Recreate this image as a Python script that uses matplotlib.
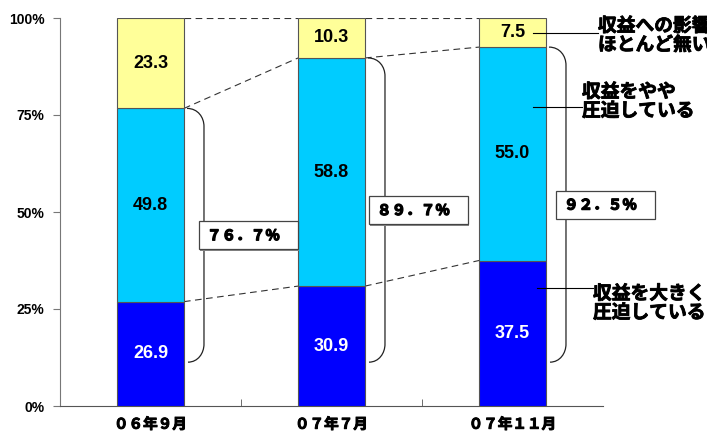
import matplotlib
matplotlib.use('Agg')
import matplotlib.pyplot as plt
from matplotlib.path import Path
from matplotlib.patches import PathPatch, Rectangle
import matplotlib.patheffects as pe
import numpy as np

# 収益への影響 (％)
periods = ['０６年９月', '０７年７月', '０７年１１月']
heavy = [26.9, 30.9, 37.5]      # 収益を大きく圧迫している
slight = [49.8, 58.8, 55.0]     # 収益をやや圧迫している
none_ = [23.3, 10.3, 7.5]       # 収益への影響ほとんど無い
series_names = ['収益を大きく\n圧迫している', '収益をやや\n圧迫している', '収益への影響\nほとんど無い']
yticks = [0, 25, 50, 75, 100]

JP = ['Noto Sans CJK JP', 'DejaVu Sans']
NUM = 'Liberation Sans'
c_heavy, c_slight, c_none = '#0000FF', '#00CCFF', '#FFFF99'
edge = '#555555'
thick = [pe.withStroke(linewidth=0.6, foreground='black')]

fig = plt.figure(figsize=(7.07, 4.33), dpi=100)
ax = fig.add_axes([60 / 707, 27 / 433, 543 / 707, 388 / 433])
ax.set_xlim(-0.5, 2.5)
ax.set_ylim(0, 100)

PX = 3 / 543       # data units per pixel, x
PY = 100 / 388     # data units per pixel, y

x = np.arange(len(periods))
w = 0.37
heavy = np.array(heavy)
slight = np.array(slight)
none_ = np.array(none_)
top1 = heavy
top2 = heavy + slight
top3 = heavy + slight + none_

ax.bar(x, heavy, w, color=c_heavy, edgecolor=edge, lw=0.8, zorder=3)
ax.bar(x, slight, w, bottom=top1, color=c_slight, edgecolor=edge, lw=0.8, zorder=3)
ax.bar(x, none_, w, bottom=top2, color=c_none, edgecolor=edge, lw=0.8, zorder=3)

# segment values
for i in range(len(x)):
    ax.text(x[i], heavy[i] / 2, f'{heavy[i]:.1f}', ha='center', va='center',
            fontsize=13, fontweight='bold', family=NUM, color='white', zorder=4)
    ax.text(x[i], top1[i] + slight[i] / 2, f'{slight[i]:.1f}', ha='center', va='center',
            fontsize=13, fontweight='bold', family=NUM, color='black', zorder=4)
    ax.text(x[i], top2[i] + none_[i] / 2, f'{none_[i]:.1f}', ha='center', va='center',
            fontsize=13, fontweight='bold', family=NUM, color='black', zorder=4)

# dashed connectors between bars
for tops in (top1, top2, top3):
    for i in range(len(x) - 1):
        ax.plot([x[i] + w / 2, x[i + 1] - w / 2], [tops[i], tops[i + 1]],
                ls=(0, (6, 4)), color='#333333', lw=0.8, zorder=2)

# braces + total boxes
fw = str.maketrans('0123456789.%', '０１２３４５６７８９．％')
brace_bot = 11.3
box_dx = [-5, -16, -10]
for i in range(len(x)):
    xr = x[i] + w / 2
    x0 = xr + 3 * PX
    xv = xr + 20 * PX
    t = top2[i]
    r = 18 * PY
    verts = [(x0, t), (xv - 6 * PX, t), (xv, t - r / 2), (xv, t - r),
             (xv, brace_bot + r),
             (xv, brace_bot + r / 2), (xv - 6 * PX, brace_bot), (x0 + 1 * PX, brace_bot)]
    codes = [Path.MOVETO, Path.CURVE4, Path.CURVE4, Path.CURVE4,
             Path.LINETO,
             Path.CURVE4, Path.CURVE4, Path.CURVE4]
    ax.add_patch(PathPatch(Path(verts, codes), fill=False, lw=0.9,
                           ec='#222222', zorder=2, clip_on=False))
    mid = (t + brace_bot) / 2
    bx = xv + box_dx[i] * PX
    bw, bh = 99 * PX, 28 * PY
    ax.add_patch(Rectangle((bx + 1.5 * PX, mid - bh / 2 - 1.5 * PY), bw, bh,
                           fc='#888888', ec='none', zorder=5, clip_on=False))
    ax.add_patch(Rectangle((bx, mid - bh / 2), bw, bh, fc='white',
                           ec='#444444', lw=0.9, zorder=6, clip_on=False))
    ax.text(bx + 8 * PX, mid, f'{t:.1f}%'.translate(fw), ha='left', va='center',
            fontsize=10.5, fontweight='bold', family=JP, zorder=7,
            path_effects=[pe.withStroke(linewidth=0.9, foreground='black')])

# leader lines and series names at the right
lead_y = [30.4, 77.1, 96.1]
lead_x0 = [537, 533, 533]
text_x = [593, 582, 598]
text_y = [26.5, 78.5, 95.5]
for k in range(3):
    xs = -0.5 + (lead_x0[k] - 60) * PX
    xt = -0.5 + (text_x[k] - 60) * PX
    ax.plot([xs, xt], [lead_y[k], lead_y[k]], color='black', lw=0.8,
            zorder=4, clip_on=False)
    ax.text(xt, text_y[k], series_names[k], ha='left', va='center',
            fontsize=13.5, fontweight='bold', family=JP, linespacing=1.0,
            clip_on=False, zorder=4, path_effects=thick)

# axes
for s in ('top', 'right'):
    ax.spines[s].set_visible(False)
ax.spines['left'].set_color('#777777')
ax.spines['bottom'].set_color('#555555')
ax.set_yticks(yticks, [f'{v}%' for v in yticks])
for lab in ax.get_yticklabels():
    lab.set_fontfamily(NUM)
    lab.set_fontweight('bold')
    lab.set_fontsize(10)
ax.tick_params(axis='y', direction='out', length=5, color='#777777', pad=6)
ax.set_xticks(x, periods)
for lab in ax.get_xticklabels():
    lab.set_fontfamily(JP)
    lab.set_fontweight('bold')
    lab.set_fontsize(10.5)
    lab.set_path_effects([pe.withStroke(linewidth=0.7, foreground='black')])
ax.tick_params(axis='x', which='major', length=0, pad=7)
ax.set_xticks([0.5, 1.5], minor=True)
ax.tick_params(axis='x', which='minor', direction='in', length=5, color='#555555')

fig.savefig('out.png', dpi=100)
